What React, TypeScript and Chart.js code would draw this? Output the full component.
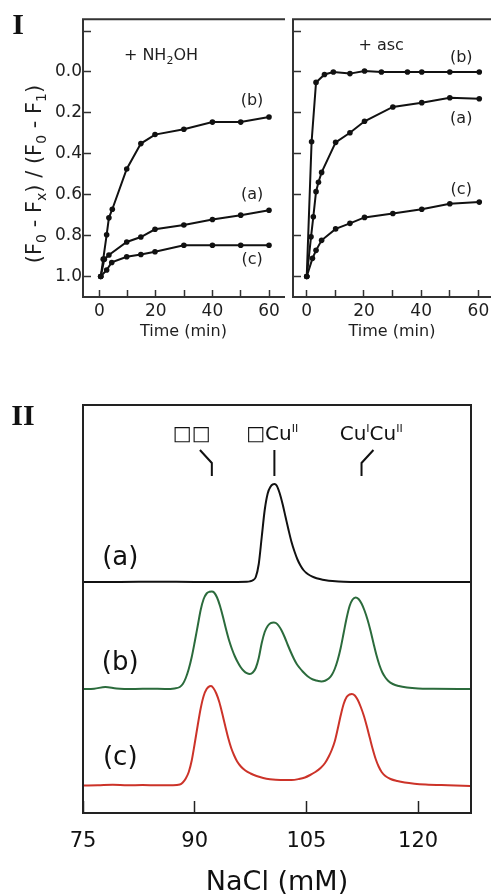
import React, { useEffect, useRef } from 'react';
import { Chart, registerables } from 'chart.js';
Chart.register(...registerables);

const SANS = '"DejaVu Sans", sans-serif';
const SERIF = '"Liberation Serif", "DejaVu Serif", serif';

// ---------- Panel I : + NH2OH ----------
const nhTimeA = [0.5, 1.8, 3.4, 9.7, 14.7, 19.7, 29.9, 40, 50, 60];
const nhValA = [1.0, 0.915, 0.895, 0.831, 0.807, 0.769, 0.748, 0.721, 0.7, 0.676];
const nhTimeB = [0.5, 1.4, 2.6, 3.4, 4.6, 9.7, 14.7, 19.7, 29.9, 40, 50, 60];
const nhValB = [1.0, 0.915, 0.796, 0.713, 0.671, 0.474, 0.35, 0.306, 0.28, 0.245, 0.245, 0.22];
const nhTimeC = [0.5, 2.6, 4.4, 9.7, 14.7, 19.7, 29.9, 40, 50, 60];
const nhValC = [1.0, 0.968, 0.931, 0.903, 0.892, 0.879, 0.847, 0.847, 0.847, 0.847];

// ---------- Panel I : + asc ----------
const ascTimeA = [0, 1.5, 2.3, 3.25, 4.1, 5.2, 10.1, 15.1, 20.2, 30.1, 40.2, 50, 60.3];
const ascValA = [1.0, 0.806, 0.708, 0.585, 0.539, 0.491, 0.344, 0.297, 0.241, 0.171, 0.15, 0.126, 0.131];
const ascTimeB = [0, 1.7, 3.25, 6.2, 9.3, 15.1, 20.2, 26.1, 35.2, 40.2, 50, 60.3];
const ascValB = [1.0, 0.341, 0.051, 0.012, 0.0, 0.008, -0.005, 0.0, 0.0, 0.0, 0.0, 0.0];
const ascTimeC = [0, 2.0, 3.25, 5.2, 10.1, 15.1, 20.2, 30.1, 40.2, 50, 60.3];
const ascValC = [1.0, 0.911, 0.872, 0.823, 0.767, 0.74, 0.711, 0.692, 0.671, 0.644, 0.636];

const timeTicks = [0, 10, 20, 30, 40, 50, 60];
const fracTicks = [-0.2, 0, 0.2, 0.4, 0.6, 0.8, 1.0];

const nhLabels = [
  { text: '(b)', x: 54, y: 0.142 },
  { text: '(a)', x: 54, y: 0.603 },
  { text: '(c)', x: 54, y: 0.919 },
];
const ascLabels = [
  { text: '(b)', x: 54, y: -0.067 },
  { text: '(a)', x: 54, y: 0.23 },
  { text: '(c)', x: 54, y: 0.574 },
];

// ---------- Panel II : chromatograms (signal in arbitrary units) ----------
const naclA = [75, 80, 85, 90, 94, 97.0, 97.4, 97.8, 98.2, 98.6, 99.0, 99.4, 99.8, 100.2, 100.5, 100.7, 101.0, 101.4, 101.8, 102.2, 102.6, 103.0, 103.4, 103.8, 104.2, 104.6, 105.0, 105.5, 106.0, 106.8, 107.6, 108.5, 110, 115, 120, 127];
const signalA = [0, 0, 0.3, 0, 0, 0.2, 0.6, 1.8, 5, 18, 45, 72, 88.5, 95.5, 97.6, 98, 96.5, 89, 78, 65, 52, 40, 30.5, 22.5, 16.5, 12, 9, 6.5, 4.8, 3, 1.8, 1, 0.3, 0, 0, 0];

const naclB = [75, 76.5, 78, 79.5, 82, 84, 86, 87.3, 88.0, 88.4, 88.8, 89.2, 89.6, 90.0, 90.4, 90.8, 91.2, 91.6, 92.0, 92.3, 92.6, 93.0, 93.4, 93.8, 94.2, 94.6, 95.0, 95.4, 95.8, 96.2, 96.6, 97.0, 97.4, 97.8, 98.2, 98.6, 99.0, 99.4, 99.8, 100.2, 100.6, 100.9, 101.3, 101.7, 102.1, 102.5, 102.9, 103.3, 103.7, 104.1, 104.5, 104.9, 105.3, 105.7, 106.1, 106.5, 107.0, 107.5, 108.0, 108.4, 108.8, 109.2, 109.6, 110.0, 110.4, 110.8, 111.2, 111.6, 112.0, 112.4, 112.8, 113.2, 113.6, 114.0, 114.4, 114.8, 115.2, 115.6, 116.0, 116.6, 117.4, 118.5, 120, 122, 127];
const signalB = [0, 0.3, 2, 0.5, 0, 0.3, 0, 0.6, 2, 5, 11, 20, 32, 47, 63, 79, 90, 95.5, 97.3, 97.6, 96.5, 91.5, 83, 72, 60, 49, 40, 32.5, 26.5, 21.5, 18, 15.8, 15, 16.5, 21, 31, 46, 57, 63, 65.8, 66.6, 66, 63, 58, 51.5, 44, 37, 30.5, 25, 21, 17.5, 14.5, 12, 10.2, 9, 8.2, 7.6, 8.3, 10.5, 14, 20, 29, 41, 56, 71, 83, 89.5, 91.6, 90, 85.5, 78.5, 69.5, 58.5, 46, 34, 24, 16.5, 11.5, 8, 5, 3, 1.5, 0.5, 0.2, 0];

const naclC = [75, 77, 79, 81, 83, 85, 87, 88.0, 88.4, 88.8, 89.2, 89.6, 90.0, 90.4, 90.8, 91.2, 91.6, 92.0, 92.2, 92.5, 92.9, 93.3, 93.7, 94.1, 94.5, 94.9, 95.3, 95.7, 96.2, 96.8, 97.5, 98.3, 99.2, 100.1, 101.5, 103.0, 104.0, 104.8, 105.5, 106.2, 106.9, 107.5, 108.0, 108.4, 108.8, 109.2, 109.6, 110.0, 110.4, 110.8, 111.1, 111.5, 111.9, 112.3, 112.7, 113.1, 113.5, 113.9, 114.3, 114.7, 115.1, 115.6, 116.3, 117.2, 118.2, 119.5, 121, 124, 127];
const signalC = [0, 0.3, 0.8, 0.2, 0.5, 0.2, 0.3, 1, 3, 7, 13.5, 25, 42, 60, 77, 89.5, 96.5, 99.3, 99.5, 97.5, 92, 83.5, 72, 59.5, 47.5, 37.5, 30, 24, 19, 15, 12, 9.5, 7.5, 6.3, 5.5, 5.5, 6.5, 8, 10.5, 13.5, 17.5, 22.5, 29, 35.5, 44, 56.5, 70, 81.5, 88.5, 91, 91.5, 90, 85.5, 78.5, 70, 59.5, 48, 36.5, 26.5, 19, 13.5, 9.5, 6.5, 4.5, 3, 1.8, 1, 0.2, -0.5];

const offsetA = 231;
const offsetB = 124;
const offsetC = 27.5;
const naclTicks = [75, 90, 105, 120];

const traceLabels = [
  { text: '(a)', x: 80, y: 255 },
  { text: '(b)', x: 80, y: 150 },
  { text: '(c)', x: 80, y: 55 },
];
type Seg = { t: string; s?: 'sub' | 'sup' };
const speciesLabels: { segs: Seg[]; x: number; y: number }[] = [
  { segs: [{ t: '\u25A1\u25A1' }], x: 89.6, y: 378 },
  { segs: [{ t: '\u25A1Cu' }, { t: 'II', s: 'sup' }], x: 100.4, y: 378 },
  { segs: [{ t: 'Cu' }, { t: 'I', s: 'sup' }, { t: 'Cu' }, { t: 'II', s: 'sup' }], x: 113.7, y: 378 },
];
const markerLines = [
  [[90.7, 363], [92.3, 350], [92.3, 337]],
  [[100.7, 363], [100.7, 337]],
  [[114.0, 363], [112.4, 350], [112.4, 337]],
];

function drawRich(
  ctx: CanvasRenderingContext2D, segs: Seg[], x: number, y: number, size: number,
  align: 'left' | 'center', color: string, family = SANS, weight = 'normal', ratio = 0.68
) {
  const small = Math.round(size * ratio);
  const fontOf = (sg: Seg) => `${weight} ${sg.s ? small : size}px ${family}`;
  let w = 0;
  for (const sg of segs) { ctx.font = fontOf(sg); w += ctx.measureText(sg.t).width; }
  let cx = align === 'center' ? x - w / 2 : x;
  ctx.fillStyle = color;
  ctx.textAlign = 'left';
  ctx.textBaseline = 'middle';
  for (const sg of segs) {
    ctx.font = fontOf(sg);
    const dy = sg.s === 'sub' ? size * 0.32 : sg.s === 'sup' ? -size * 0.3 : 0;
    ctx.fillText(sg.t, cx, y + dy);
    cx += ctx.measureText(sg.t).width;
  }
}

function framePlugin(sides: string[], color: string, width: number) {
  return {
    id: 'frame',
    afterDraw(chart: any) {
      const { ctx, chartArea: a } = chart;
      ctx.save();
      ctx.strokeStyle = color;
      ctx.lineWidth = width;
      ctx.lineCap = 'square';
      ctx.beginPath();
      if (sides.includes('top')) { ctx.moveTo(a.left, a.top); ctx.lineTo(a.right, a.top); }
      if (sides.includes('bottom')) { ctx.moveTo(a.left, a.bottom); ctx.lineTo(a.right, a.bottom); }
      if (sides.includes('left')) { ctx.moveTo(a.left, a.top); ctx.lineTo(a.left, a.bottom); }
      if (sides.includes('right')) { ctx.moveTo(a.right, a.top); ctx.lineTo(a.right, a.bottom); }
      ctx.stroke();
      ctx.restore();
    },
  };
}

const INK = '#1e1e1e';

function panelIConfig(isLeft: boolean): any {
  const series = isLeft
    ? [[nhTimeA, nhValA], [nhTimeB, nhValB], [nhTimeC, nhValC]]
    : [[ascTimeA, ascValA], [ascTimeB, ascValB], [ascTimeC, ascValC]];
  const labels = isLeft ? nhLabels : ascLabels;
  const textPlugin = {
    id: 'texts',
    afterDraw(chart: any) {
      const { ctx } = chart;
      const xs = chart.scales.x, ys = chart.scales.y;
      ctx.save();
      for (const l of labels) {
        drawRich(ctx, [{ t: l.text }], xs.getPixelForValue(l.x), ys.getPixelForValue(l.y), 16, 'center', INK);
      }
      if (isLeft) {
        drawRich(ctx, [{ t: '+ NH' }, { t: '2', s: 'sub' }, { t: 'OH' }], xs.getPixelForValue(8.7), ys.getPixelForValue(-0.08), 16, 'left', INK);
        ctx.save();
        ctx.translate(36, 174);
        ctx.rotate(-Math.PI / 2);
        drawRich(ctx, [
          { t: '(F' }, { t: '0', s: 'sub' }, { t: ' - F' }, { t: 'x', s: 'sub' }, { t: ') / (F' },
          { t: '0', s: 'sub' }, { t: ' - F' }, { t: '1', s: 'sub' }, { t: ')' },
        ], 0, 0, 21, 'center', INK);
        ctx.restore();
        drawRich(ctx, [{ t: 'I' }], 18, 26, 30, 'center', '#111', SERIF, 'bold');
      } else {
        drawRich(ctx, [{ t: '+ asc' }], xs.getPixelForValue(26), ys.getPixelForValue(-0.129), 16, 'center', INK);
      }
      ctx.restore();
    },
  };
  return {
    type: 'line',
    data: {
      datasets: series.map(([t, v]) => ({
        data: t.map((x, i) => ({ x, y: v[i] })),
        borderColor: '#111',
        backgroundColor: '#111',
        borderWidth: 2,
        pointRadius: 2.8,
        pointBorderWidth: 0,
        tension: 0,
        clip: false,
      })),
    },
    options: {
      animation: false,
      responsive: false,
      events: [],
      layout: { padding: { left: 0, top: 13, right: isLeft ? 8 : 17, bottom: 0 } },
      plugins: { legend: { display: false }, tooltip: { enabled: false } },
      scales: {
        x: {
          type: 'linear',
          min: isLeft ? -5.76 : -4.8,
          max: isLeft ? 65.3 : 64.4,
          afterBuildTicks: (s: any) => { s.ticks = timeTicks.map((value) => ({ value })); },
          afterFit: (s: any) => { s.height = 43; },
          ticks: {
            callback: (v: number) => (v % 20 === 0 ? String(v) : ''),
            font: { family: SANS, size: 17 },
            color: INK,
            padding: 11.5,
            maxRotation: 0,
            autoSkip: false,
          },
          grid: { drawOnChartArea: false, drawTicks: true, tickLength: -7, tickColor: '#333', tickWidth: 1.5 },
          border: { display: false },
          title: { display: true, text: 'Time (min)', font: { family: SANS, size: 16, lineHeight: 1 }, color: INK, padding: 0 },
        },
        y: {
          type: 'linear',
          reverse: true,
          min: -0.258,
          max: 1.1,
          afterBuildTicks: (s: any) => { s.ticks = fracTicks.map((value) => ({ value })); },
          afterFit: (s: any) => { s.width = isLeft ? 83 : 5; },
          ticks: {
            callback: (v: number) => (isLeft && v > -0.1 ? v.toFixed(1) : ''),
            font: { family: SANS, size: 17 },
            color: INK,
            padding: 9,
            autoSkip: false,
          },
          grid: { drawOnChartArea: false, drawTicks: true, tickLength: -8, tickColor: '#333', tickWidth: 1.5 },
          border: { display: false },
        },
      },
    },
    plugins: [framePlugin(['top', 'left', 'bottom'], '#333', 2), textPlugin],
  };
}

function panelIIConfig(): any {
  const textPlugin = {
    id: 'texts2',
    afterDraw(chart: any) {
      const { ctx } = chart;
      const xs = chart.scales.x, ys = chart.scales.y;
      ctx.save();
      for (const l of traceLabels) {
        drawRich(ctx, [{ t: l.text }], xs.getPixelForValue(l.x), ys.getPixelForValue(l.y), 26, 'center', '#111');
      }
      for (const l of speciesLabels) {
        drawRich(ctx, l.segs, xs.getPixelForValue(l.x), ys.getPixelForValue(l.y), 20, 'center', '#111', SANS, 'normal', 0.55);
      }
      ctx.strokeStyle = '#111';
      ctx.lineWidth = 2;
      ctx.lineJoin = 'miter';
      for (const pl of markerLines) {
        ctx.beginPath();
        pl.forEach(([x, y], i) => {
          const px = xs.getPixelForValue(x), py = ys.getPixelForValue(y);
          if (i === 0) ctx.moveTo(px, py); else ctx.lineTo(px, py);
        });
        ctx.stroke();
      }
      drawRich(ctx, [{ t: 'II' }], 23, 17, 30, 'center', '#111', SERIF, 'bold');
      ctx.restore();
    },
  };
  const mk = (nacl: number[], sig: number[], off: number, color: string) => ({
    data: nacl.map((x, i) => ({ x, y: off + sig[i] })),
    borderColor: color,
    borderWidth: 2,
    pointRadius: 0,
    cubicInterpolationMode: 'monotone',
  });
  return {
    type: 'line',
    data: {
      datasets: [
        mk(naclA, signalA, offsetA, '#111111'),
        mk(naclB, signalB, offsetB, '#2b6b3c'),
        mk(naclC, signalC, offsetC, '#cc3329'),
      ],
    },
    options: {
      animation: false,
      responsive: false,
      events: [],
      layout: { padding: { left: 0, top: 5, right: 20, bottom: 0 } },
      plugins: { legend: { display: false }, tooltip: { enabled: false } },
      scales: {
        x: {
          type: 'linear',
          min: 75,
          max: 127.1,
          afterBuildTicks: (s: any) => { s.ticks = naclTicks.map((value) => ({ value })); },
          afterFit: (s: any) => { s.height = 83; },
          ticks: {
            callback: (v: number) => String(v),
            font: { family: SANS, size: 21 },
            color: '#111',
            padding: 28,
            maxRotation: 0,
            autoSkip: false,
          },
          grid: { drawOnChartArea: false, drawTicks: true, tickLength: -12, tickColor: '#222', tickWidth: 1.5 },
          border: { display: false },
          title: { display: true, text: 'NaCl (mM)', font: { family: SANS, size: 27, lineHeight: 1 }, color: '#111', padding: 0 },
        },
        y: {
          type: 'linear',
          min: 0,
          max: 408,
          afterFit: (s: any) => { s.width = 83; },
          ticks: { display: false },
          grid: { display: false },
          border: { display: false },
        },
      },
    },
    plugins: [framePlugin(['top', 'left', 'bottom', 'right'], '#222', 2), textPlugin],
  };
}

function ChartBox({ left, top, width, height, make }: { left: number; top: number; width: number; height: number; make: () => any }) {
  const ref = useRef<HTMLCanvasElement>(null);
  useEffect(() => {
    const chart = new Chart(ref.current as HTMLCanvasElement, make());
    return () => chart.destroy();
  }, []);
  return (
    <canvas
      ref={ref}
      width={width}
      height={height}
      style={{ position: 'absolute', left, top, width, height, display: 'block' }}
    />
  );
}

export default function App() {
  return (
    <div style={{ position: 'absolute', left: 0, top: 0, width: 491, height: 896, background: '#fff', overflow: 'hidden' }}>
      <ChartBox left={0} top={0} width={292} height={340} make={() => panelIConfig(true)} />
      <ChartBox left={288} top={0} width={220} height={340} make={() => panelIConfig(false)} />
      <ChartBox left={0} top={400} width={491} height={496} make={panelIIConfig} />
    </div>
  );
}
